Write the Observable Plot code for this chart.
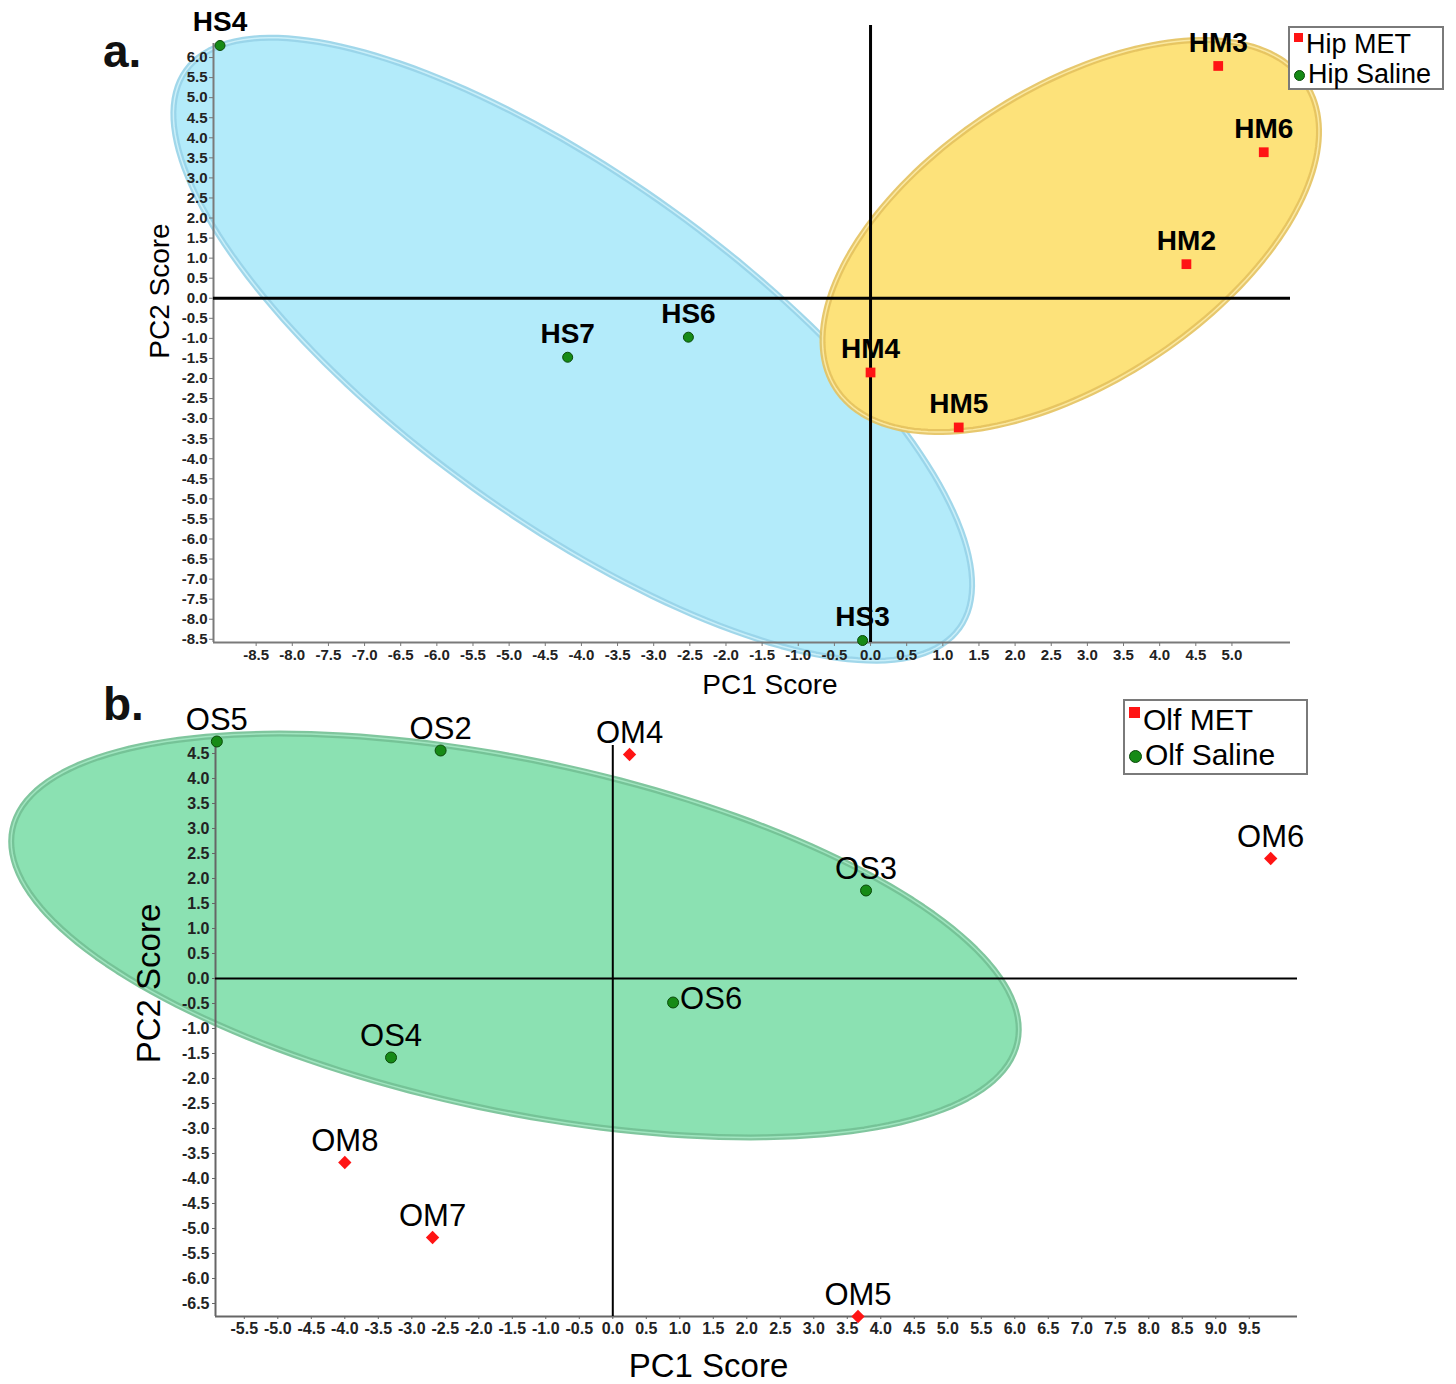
<!DOCTYPE html>
<html>
<head>
<meta charset="utf-8">
<script src="https://cdn.jsdelivr.net/npm/d3@7"></script>
<script src="https://cdn.jsdelivr.net/npm/@observablehq/plot@0.6"></script>
<style>
  body { margin: 0; background: #fff; }
  #wrap { position: relative; width: 1456px; height: 1384px; font-family: "Liberation Sans", Arial, sans-serif; overflow: hidden; }
  #wrap svg { display: block; overflow: visible; }
  .tag { position: absolute; font-weight: bold; font-size: 46px; color: #111; line-height: 1; }
  .legend { position: absolute; border: 2px solid #7a7a7a; background: #fff; box-sizing: border-box; }
  .legend .row { position: absolute; left: 0; white-space: nowrap; color: #000; display: flex; align-items: center; overflow: visible; }
  .legend .sw { display: inline-block; margin-right: 3px; flex: none; }
  .legend .lt { display: block; overflow: visible; }
</style>
</head>
<body>
<div id="wrap"></div>
<script>
// ---------------- Panel a: hippocampus ----------------
const hipNames = ["HS4", "HS7", "HS6", "HS3", "HM3", "HM6", "HM2", "HM4", "HM5"];
const hipGroup = ["Hip Saline", "Hip Saline", "Hip Saline", "Hip Saline", "Hip MET", "Hip MET", "Hip MET", "Hip MET", "Hip MET"];
const hipPC1 = [-9.0, -4.19, -2.52, -0.11, 4.81, 5.44, 4.37, 0.0, 1.22];
const hipPC2 = [6.3, -1.47, -0.97, -8.53, 5.79, 3.64, 0.85, -1.85, -3.22];

const xDomainA = [-9.09, 5.81];
const yDomainA = [-8.58, 6.35];
const zeroTopA = 6.8;
const xTicksA = [-8.5, -8.0, -7.5, -7.0, -6.5, -6.0, -5.5, -5.0, -4.5, -4.0, -3.5, -3.0, -2.5, -2.0, -1.5, -1.0, -0.5, 0.0, 0.5, 1.0, 1.5, 2.0, 2.5, 3.0, 3.5, 4.0, 4.5, 5.0];
const yTicksA = [-8.5, -8.0, -7.5, -7.0, -6.5, -6.0, -5.5, -5.0, -4.5, -4.0, -3.5, -3.0, -2.5, -2.0, -1.5, -1.0, -0.5, 0.0, 0.5, 1.0, 1.5, 2.0, 2.5, 3.0, 3.5, 4.0, 4.5, 5.0, 5.5, 6.0];

// ---------------- Panel b: olfactory ----------------
const olfNames = ["OS5", "OS2", "OS3", "OS6", "OS4", "OM4", "OM6", "OM8", "OM7", "OM5"];
const olfGroup = ["Olf Saline", "Olf Saline", "Olf Saline", "Olf Saline", "Olf Saline", "Olf MET", "Olf MET", "Olf MET", "Olf MET", "Olf MET"];
const olfPC1 = [-5.91, -2.57, 3.78, 0.90, -3.31, 0.25, 9.82, -4.0, -2.69, 3.66];
const olfPC2 = [4.74, 4.56, 1.76, -0.48, -1.58, 4.48, 2.40, -3.68, -5.18, -6.76];

const xDomainB = [-5.93, 10.22];
const yDomainB = [-6.76, 4.76];
const zeroTopB = 4.66;
const xTicksB = [-5.5, -5.0, -4.5, -4.0, -3.5, -3.0, -2.5, -2.0, -1.5, -1.0, -0.5, 0.0, 0.5, 1.0, 1.5, 2.0, 2.5, 3.0, 3.5, 4.0, 4.5, 5.0, 5.5, 6.0, 6.5, 7.0, 7.5, 8.0, 8.5, 9.0, 9.5];
const yTicksB = [-6.5, -6.0, -5.5, -5.0, -4.5, -4.0, -3.5, -3.0, -2.5, -2.0, -1.5, -1.0, -0.5, 0.0, 0.5, 1.0, 1.5, 2.0, 2.5, 3.0, 3.5, 4.0, 4.5];

// ---------------- Group ellipses (centre + conjugate semi-axes, data units) ----------------
const ellipseGroups = ["Hip Saline", "Hip MET", "Olf Saline"];
const ellipseCX = [-4.12, 2.77, -1.46];
const ellipseCY = [-1.27, 1.55, 0.86];
const ellipseMajorDX = [5.35, 3.25, 7.50];
const ellipseMajorDY = [-6.95, 3.80, -2.13];
const ellipseMinorDX = [1.38, 1.11, 0.54];
const ellipseMinorDY = [3.46, -3.07, 3.43];

const legendA = ["Hip MET", "Hip Saline"];
const legendB = ["Olf MET", "Olf Saline"];
const panelTags = ["a.", "b."];

// ---------------- helpers ----------------
const fmt = d => d.toFixed(1);
function ellipsePts(i) {
  return d3.range(0, 360, 2).map(deg => {
    const t = deg * Math.PI / 180;
    return {
      x: ellipseCX[i] + ellipseMajorDX[i] * Math.cos(t) + ellipseMinorDX[i] * Math.sin(t),
      y: ellipseCY[i] + ellipseMajorDY[i] * Math.cos(t) + ellipseMinorDY[i] * Math.sin(t)
    };
  });
}
const hip = hipNames.map((n, i) => ({name: n, group: hipGroup[i], x: hipPC1[i], y: hipPC2[i]}));
const olf = olfNames.map((n, i) => ({name: n, group: olfGroup[i], x: olfPC1[i], y: olfPC2[i]}));

const RED = "#ff1414";
const GREEN = "#168a16";
const GREEN_EDGE = "#0a4a0a";

const baseStyle = {fontFamily: "'Liberation Sans', Arial, sans-serif", background: "transparent", overflow: "visible"};

function ellipseMarks(i, fill, rim, hi) {
  return [
    Plot.line(ellipsePts(i), {x: "x", y: "y", curve: "linear-closed", fill: fill, stroke: rim, strokeWidth: 6, strokeOpacity: 0.9}),
    Plot.line(ellipsePts(i), {x: "x", y: "y", curve: "linear-closed", fill: "none", stroke: hi, strokeWidth: 1.5, strokeOpacity: 0.8})
  ];
}

const plotA = Plot.plot({
  width: 1456, height: 700,
  marginLeft: 213, marginRight: 166, marginTop: 43, marginBottom: 58,
  x: {domain: xDomainA, label: null},
  y: {domain: yDomainA, label: null},
  style: baseStyle,
  marks: [
    ...ellipseMarks(0, "#b3ebfa", "#97d3e8", "#d4f5fd"),
    ...ellipseMarks(1, "#fde27a", "#e4c25e", "#fff0b0"),
    Plot.ruleY([yDomainA[0]], {stroke: "#7a7a7a", strokeWidth: 2}),
    Plot.ruleX([xDomainA[0]], {stroke: "#7a7a7a", strokeWidth: 2}),
    Plot.axisX({ticks: xTicksA, tickFormat: fmt, tickSize: 4, tickPadding: 3, fontSize: 15, fontWeight: "bold", fill: "#222", stroke: "#777", label: null}),
    Plot.axisY({ticks: yTicksA, tickFormat: fmt, tickSize: 4, tickPadding: 2, fontSize: 15, fontWeight: "bold", fill: "#222", stroke: "#777", label: null}),
    Plot.ruleY([0], {x1: xDomainA[0], x2: xDomainA[1], stroke: "#000", strokeWidth: 3}),
    Plot.ruleX([0], {y1: yDomainA[0], y2: zeroTopA, stroke: "#000", strokeWidth: 3}),
    Plot.dot(hip.filter(d => d.group === "Hip Saline"), {x: "x", y: "y", r: 5, fill: GREEN, stroke: GREEN_EDGE, strokeWidth: 1}),
    Plot.dot(hip.filter(d => d.group === "Hip MET"), {x: "x", y: "y", symbol: "square", r: 5.5, fill: RED}),
    Plot.text(hip, {x: "x", y: "y", text: "name", dy: -23, fontSize: 28, fontWeight: "bold", fill: "#000"}),
    Plot.text(["PC1 Score"], {frameAnchor: "bottom", textAnchor: "middle", lineAnchor: "middle", dx: 18, dy: 43, fontSize: 28, fill: "#000"}),
    Plot.text(["PC2 Score"], {frameAnchor: "left", textAnchor: "middle", lineAnchor: "middle", rotate: -90, dx: -53, dy: -52, fontSize: 28, fill: "#000"})
  ]
});

const plotB = Plot.plot({
  width: 1456, height: 684,
  marginLeft: 215, marginRight: 159, marginTop: 40, marginBottom: 68,
  x: {domain: xDomainB, label: null},
  y: {domain: yDomainB, label: null},
  style: baseStyle,
  marks: [
    ...ellipseMarks(2, "#8be1b2", "#72c094", "#a9ecc8"),
    Plot.ruleY([yDomainB[0]], {stroke: "#666", strokeWidth: 2}),
    Plot.ruleX([xDomainB[0]], {stroke: "#666", strokeWidth: 2}),
    Plot.axisX({ticks: xTicksB, tickFormat: fmt, tickSize: 3, tickPadding: 3, fontSize: 16, fontWeight: "bold", fill: "#222", stroke: "#666", label: null}),
    Plot.axisY({ticks: yTicksB, tickFormat: fmt, tickSize: 3, tickPadding: 3, fontSize: 16, fontWeight: "bold", fill: "#222", stroke: "#666", label: null}),
    Plot.ruleY([0], {x1: xDomainB[0], x2: xDomainB[1], stroke: "#000", strokeWidth: 2}),
    Plot.ruleX([0], {y1: yDomainB[0], y2: zeroTopB, stroke: "#000", strokeWidth: 2}),
    Plot.dot(olf.filter(d => d.group === "Olf Saline"), {x: "x", y: "y", r: 5.5, fill: GREEN, stroke: GREEN_EDGE, strokeWidth: 1}),
    Plot.dot(olf.filter(d => d.group === "Olf MET"), {x: "x", y: "y", symbol: "diamond2", r: 6, fill: RED}),
    Plot.text(olf.filter(d => d.name !== "OS6"), {x: "x", y: "y", text: "name", dy: -21, fontSize: 31, fill: "#000"}),
    Plot.text(olf.filter(d => d.name === "OS6"), {x: "x", y: "y", text: "name", dx: 7, dy: -3, textAnchor: "start", fontSize: 31, fill: "#000"}),
    Plot.text(["PC1 Score"], {frameAnchor: "bottom", textAnchor: "middle", lineAnchor: "middle", dx: -48, dy: 50, fontSize: 33, fill: "#000"}),
    Plot.text(["PC2 Score"], {frameAnchor: "left", textAnchor: "middle", lineAnchor: "middle", rotate: -90, dx: -66, dy: -45, fontSize: 33, fill: "#000"})
  ]
});

const wrap = document.getElementById("wrap");
wrap.appendChild(plotA);
wrap.appendChild(plotB);

// panel tags
[[panelTags[0], 103, 28], [panelTags[1], 103, 681]].forEach(([t, l, tp]) => {
  const d = document.createElement("div");
  d.className = "tag"; d.textContent = t;
  d.style.left = l + "px"; d.style.top = tp + "px";
  wrap.appendChild(d);
});

// legends
function makeLegend(labels, box, fontSize, rowTops, rowH, swSize) {
  const lg = document.createElement("div");
  lg.className = "legend";
  Object.assign(lg.style, {left: box[0] + "px", top: box[1] + "px", width: box[2] + "px", height: box[3] + "px"});
  labels.forEach((lab, i) => {
    const row = document.createElement("div");
    row.className = "row";
    row.style.top = rowTops[i] + "px";
    row.style.height = rowH + "px";
    row.style.fontSize = fontSize + "px";
    row.style.lineHeight = rowH + "px";
    row.style.paddingLeft = "4px";
    const sw = document.createElement("span");
    sw.className = "sw";
    const isMet = i === 0;
    Object.assign(sw.style, {
      width: swSize + "px", height: swSize + "px",
      background: isMet ? RED : GREEN,
      borderRadius: isMet ? "0" : "50%",
      border: isMet ? "none" : "1px solid " + GREEN_EDGE,
      alignSelf: isMet ? "flex-start" : "center",
      marginTop: isMet ? "4px" : "2px"
    });
    const tx = document.createElement("span");
    tx.className = "lt";
    tx.style.height = rowH + "px";
    tx.textContent = lab;
    row.appendChild(sw); row.appendChild(tx);
    lg.appendChild(row);
  });
  wrap.appendChild(lg);
}
makeLegend(legendA, [1288, 26, 156, 64], 27, [1, 31], 30, 9);
makeLegend(legendB, [1123, 699, 185, 76], 30, [2, 37], 34, 11);
</script>
</body>
</html>
